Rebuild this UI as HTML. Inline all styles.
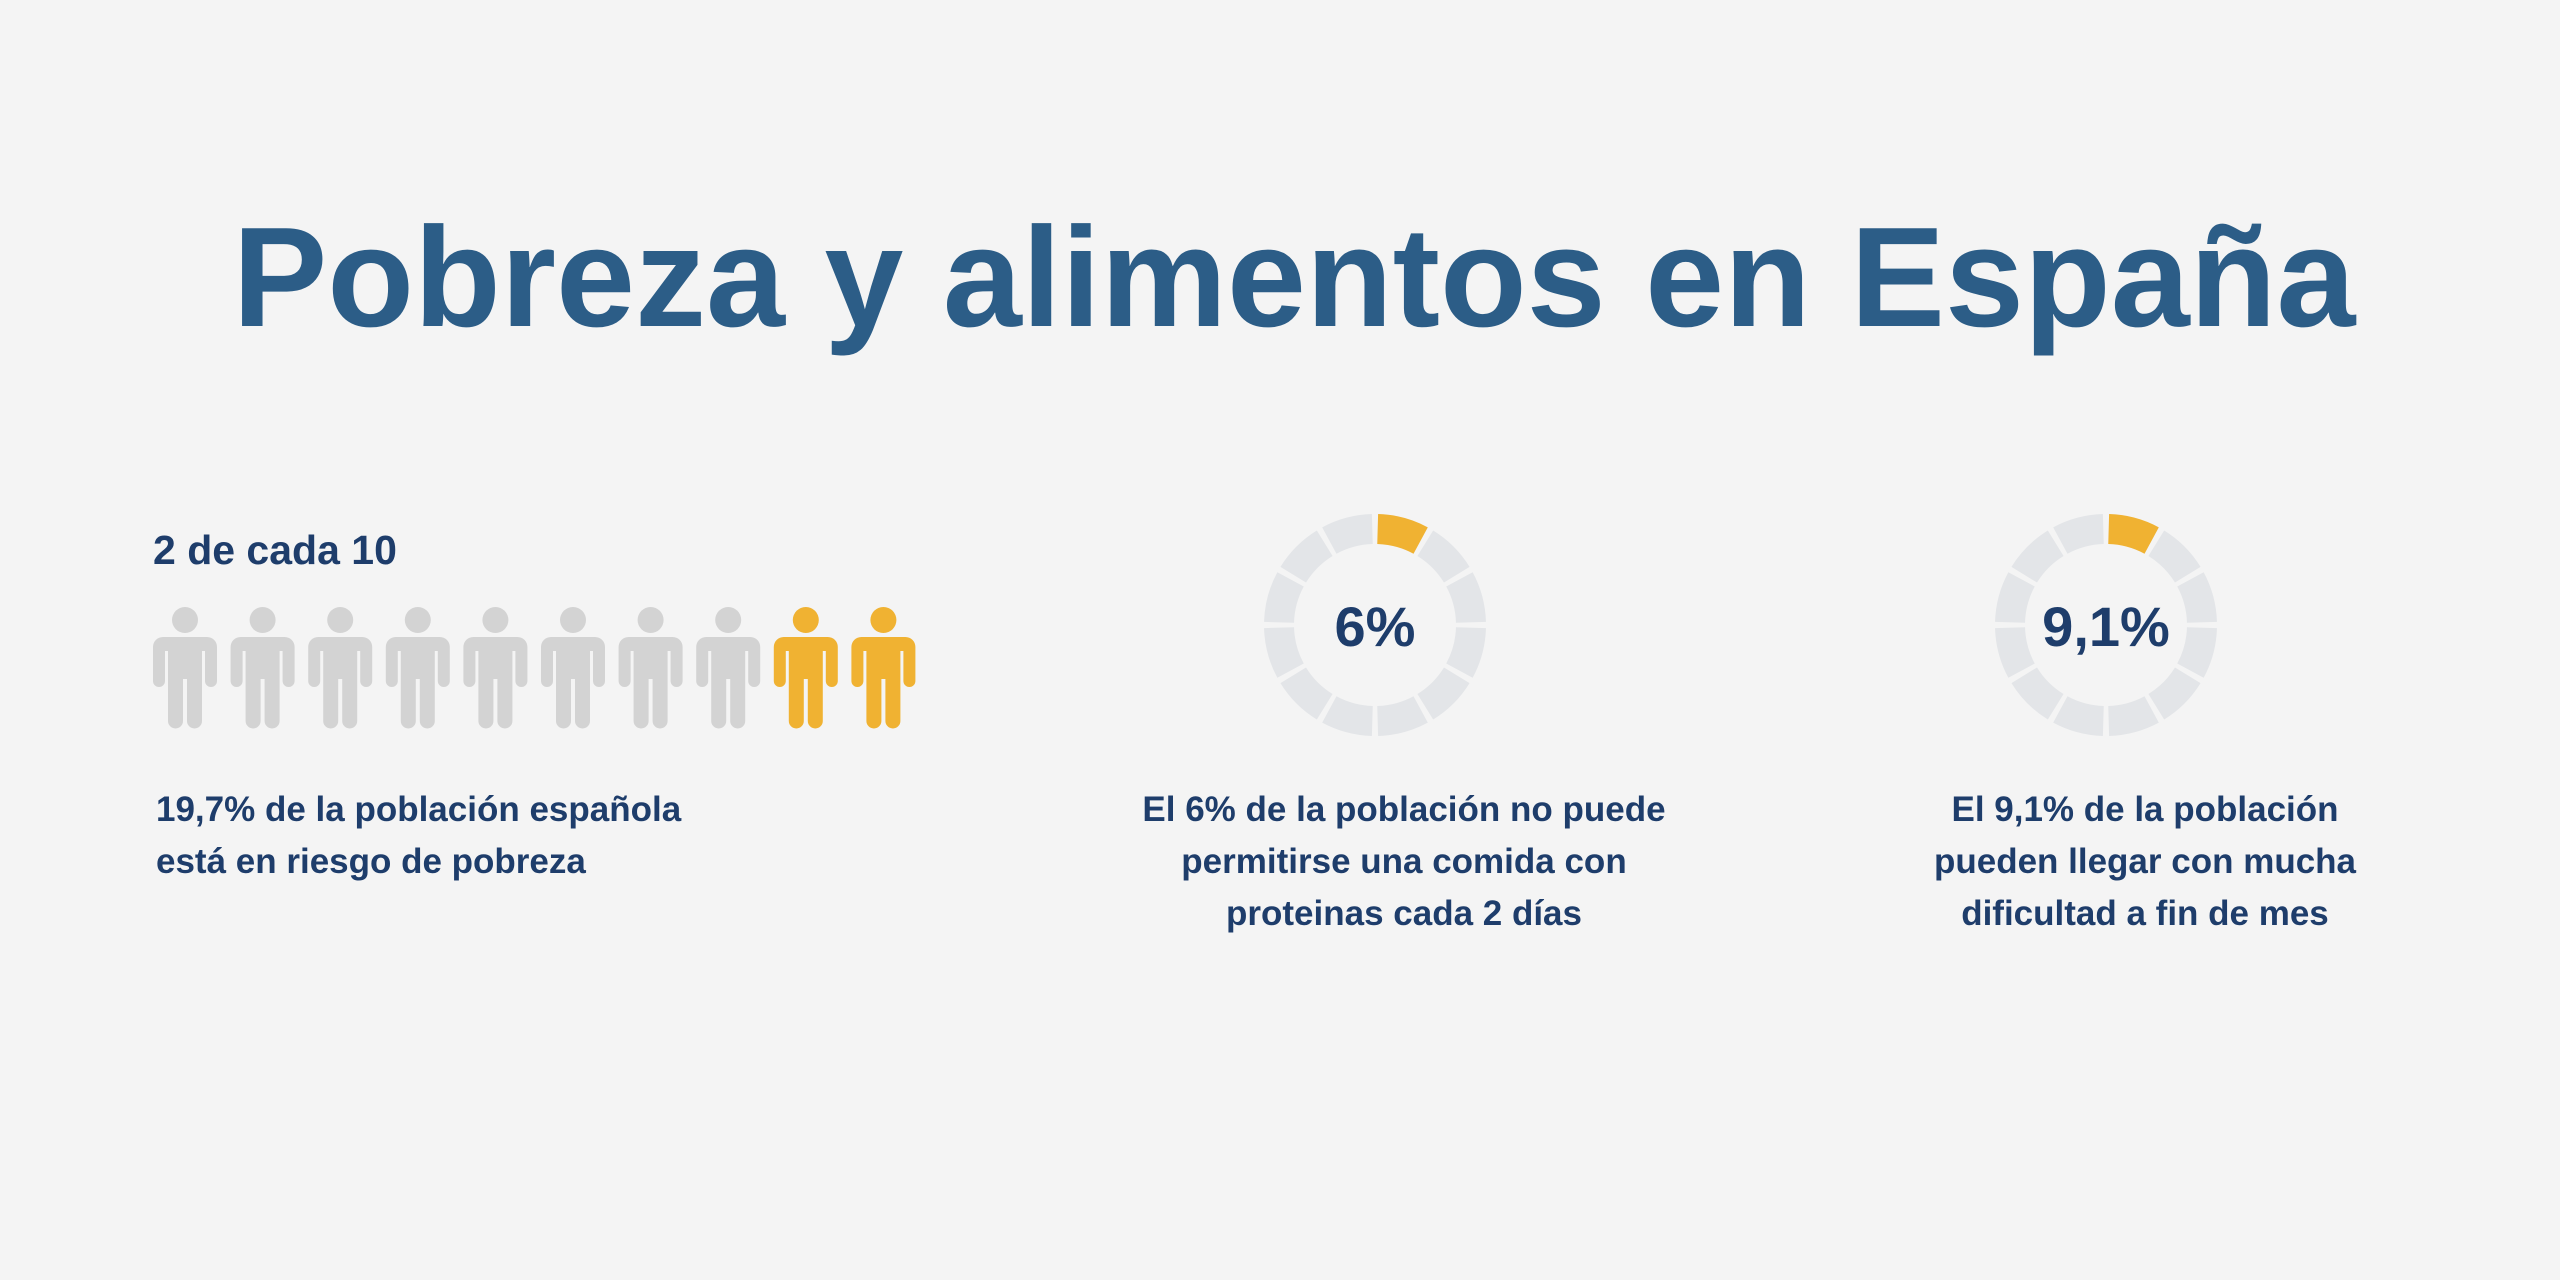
<!DOCTYPE html>
<html><head><meta charset="utf-8">
<style>
html,body{margin:0;padding:0;}
body{width:2560px;height:1280px;background:#f4f4f4;position:relative;overflow:hidden;font-family:"Liberation Sans",sans-serif;}
.t{position:absolute;margin:0;font-weight:bold;}
#title{left:0;width:2588px;text-align:center;top:196px;font-size:142px;color:#2c5d87;}
.cap{color:#1e3d6b;font-size:35px;line-height:52px;}
</style></head><body>
<h1 id="title" class="t">Pobreza y alimentos en España</h1>
<div class="t" style="left:153px;top:527px;font-size:41px;color:#1e3d6b;">2 de cada 10</div>
<svg id="people" style="position:absolute;left:0;top:0" width="2560" height="1280"></svg>
<div class="t cap" style="left:156px;top:784px;">19,7% de la población española<br>está en riesgo de pobreza</div>
<div class="t cap" style="left:1104px;width:600px;text-align:center;top:784px;">El 6% de la población no puede<br>permitirse una comida con<br>proteinas cada 2 días</div>
<div class="t cap" style="left:1845px;width:600px;text-align:center;top:784px;">El 9,1% de la población<br>pueden llegar con mucha<br>dificultad a fin de mes</div>
<script>
const peopleTotal = 10;
const peopleHighlighted = 2;
const donutValues = [6, 9.1];
const donutLabels = ['6%', '9,1%'];
const donutCenters = [1375, 2106];
const NS = 'http://www.w3.org/2000/svg';
const svg = document.getElementById('people');
function personPath(x, y) {
  return `M${x+10},${y+30} h44 a10,10 0 0 1 10,10 v34 a6,6 0 0 1 -12,0 v-30 h-3 v70 a7.5,7.5 0 0 1 -15,0 v-42 h-4 v42 a7.5,7.5 0 0 1 -15,0 v-70 h-3 v30 a6,6 0 0 1 -12,0 v-34 a10,10 0 0 1 10,-10 z`;
}
const pitch = 77.6;
for (let i = 0; i < peopleTotal; i++) {
  const x = 153 + i * pitch, y = 607;
  const col = i >= peopleTotal - peopleHighlighted ? '#f0b232' : '#d3d3d3';
  const g = document.createElementNS(NS, 'g');
  
  
  const c = document.createElementNS(NS, 'circle');
  c.setAttribute('cx', x + 32); c.setAttribute('cy', y + 13); c.setAttribute('r', 13); c.setAttribute('fill', col);
  const p = document.createElementNS(NS, 'path');
  p.setAttribute('d', personPath(x, y)); p.setAttribute('fill', col);
  g.appendChild(c); g.appendChild(p); svg.appendChild(g);
}
const segs = 12, R = 111, r = 81, cy = 625, gapDeg = 1.6;
function pt(cx, rad, a) { const t = (a - 90) * Math.PI / 180; return [cx + rad * Math.cos(t), cy + rad * Math.sin(t)]; }
donutValues.forEach((v, d) => {
  const cx = donutCenters[d];
  const filled = Math.max(1, Math.round(v / 100 * segs));
  for (let s = 0; s < segs; s++) {
    const a0 = s * 30 + gapDeg, a1 = (s + 1) * 30 - gapDeg;
    const [x0, y0] = pt(cx, R, a0), [x1, y1] = pt(cx, R, a1), [x2, y2] = pt(cx, r, a1), [x3, y3] = pt(cx, r, a0);
    const p = document.createElementNS(NS, 'path');
    p.setAttribute('d', `M${x0},${y0} A${R},${R} 0 0 1 ${x1},${y1} L${x2},${y2} A${r},${r} 0 0 0 ${x3},${y3} Z`);
    p.setAttribute('fill', s < filled ? '#f0b232' : '#e3e5e8');
    
    
    svg.appendChild(p);
  }
  const t = document.createElementNS(NS, 'text');
  t.setAttribute('x', cx); t.setAttribute('y', cy + 21);
  t.setAttribute('text-anchor', 'middle');
  t.setAttribute('font-family', 'Liberation Sans, sans-serif');
  t.setAttribute('font-weight', 'bold'); t.setAttribute('font-size', '56');
  t.setAttribute('fill', '#1e3d6b');
  
  
  t.textContent = donutLabels[d];
  svg.appendChild(t);
});
</script>
</body></html>
